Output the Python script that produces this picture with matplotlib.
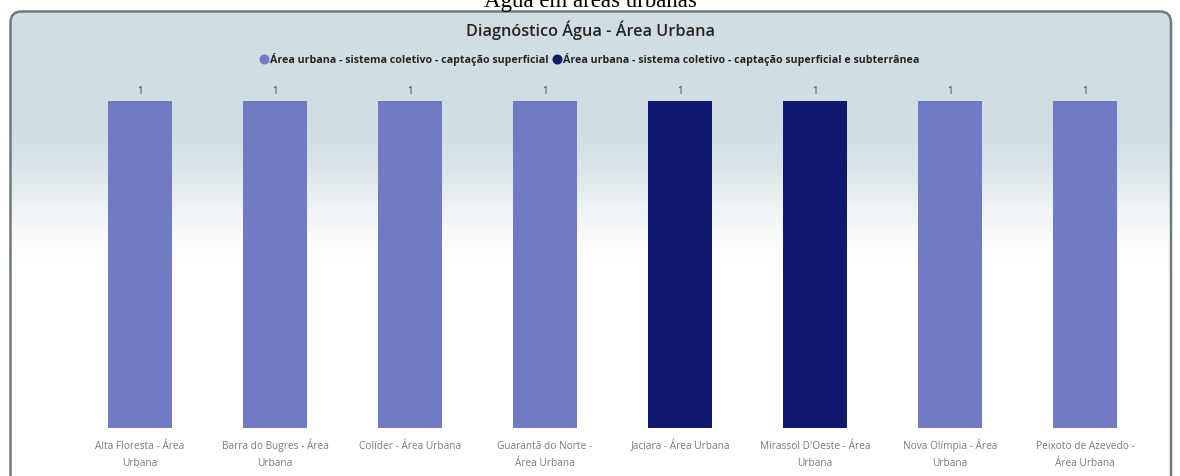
import matplotlib
matplotlib.use("Agg")
import matplotlib.pyplot as plt
import numpy as np
from matplotlib.patches import FancyBboxPatch
from matplotlib.lines import Line2D

# --- data -------------------------------------------------------------
municipios = [
    "Alta Floresta - Área\nUrbana",
    "Barra do Bugres - Área\nUrbana",
    "Colíder - Área Urbana",
    "Guarantã do Norte -\nÁrea Urbana",
    "Jaciara - Área Urbana",
    "Mirassol D'Oeste - Área\nUrbana",
    "Nova Olímpia - Área\nUrbana",
    "Peixoto de Azevedo -\nÁrea Urbana",
]
valores = [1, 1, 1, 1, 1, 1, 1, 1]
series = [
    "Área urbana - sistema coletivo - captação superficial",
    "Área urbana - sistema coletivo - captação superficial e subterrânea",
]
serie_por_municipio = [0, 0, 0, 0, 1, 1, 0, 0]
cores_series = ["#717ac5", "#0f1a6f"]

titulo_pagina = "Água em áreas urbanas"
titulo_card = "Diagnóstico Água - Área Urbana"

# --- figure -----------------------------------------------------------
W, H = 1180, 476
fig = plt.figure(figsize=(W / 100, H / 100), dpi=100)
fig.patch.set_facecolor("white")

bg = fig.add_axes([0, 0, 1, 1])
bg.set_xlim(0, W)
bg.set_ylim(H, 0)
bg.axis("off")

# card with vertical gradient background
card_box = (10.5, 11.5, W - 19.5, H + 20)
clip = FancyBboxPatch(card_box[:2], card_box[2], card_box[3],
                      boxstyle="round,pad=0,rounding_size=11",
                      fc="none", ec="none")
bg.add_patch(clip)

rows = np.arange(H) + 0.5
t = np.clip((rows - 120) / (268 - 120), 0, 1)
t = t * t * (3 - 2 * t)
top = np.array([208, 221, 226]) / 255
col = top[None, :] * (1 - t[:, None]) + t[:, None]
grad = np.repeat(col[:, None, :], 4, axis=1)
img = bg.imshow(grad, extent=(0, W, H, 0), aspect="auto",
                interpolation="nearest", zorder=0)
img.set_clip_path(clip)

border = FancyBboxPatch(card_box[:2], card_box[2], card_box[3],
                        boxstyle="round,pad=0,rounding_size=11",
                        fc="none", ec="#6e797e", lw=1.8, zorder=3)
bg.add_patch(border)

# page title (partly cut at the top edge)
fig.text(0.5, 1 - 7 / H, titulo_pagina, ha="center", va="baseline",
         family="Liberation Serif", fontsize=16.5, color="black")

# card title
fig.text(0.5, 1 - 30 / H, titulo_card, ha="center", va="center",
         family="Open Sans", fontweight="semibold", fontstretch="normal",
         fontsize=11.7, color="#252423")

# --- bars ---------------------------------------------------------------
ax = fig.add_axes([72.5 / W, 1 - 428 / H, 1080 / W, (428 - 101) / H])
ax.set_facecolor("none")
x = np.arange(len(municipios))
cores = [cores_series[s] for s in serie_por_municipio]
ax.bar(x, valores, width=0.475, color=cores, zorder=2)
ax.set_xlim(-0.5, len(municipios) - 0.5)
ax.set_ylim(0, max(valores))

for xi, v in zip(x, valores):
    ax.annotate(f"{v}", (xi, v), xytext=(0, 3), textcoords="offset points",
                ha="center", va="bottom", fontsize=7, family="Open Sans",
                color="#444444", annotation_clip=False)

for s in ax.spines.values():
    s.set_visible(False)
ax.set_yticks([])
ax.set_xticks(x)
ax.set_xticklabels([])
ax.tick_params(axis="x", length=0)

# category labels, each line placed on a fixed baseline grid
for xi, nome in zip(x, municipios):
    for k, linha in enumerate(nome.split("\n")):
        ax.annotate(linha, (xi, 0), xytext=(0, -15.0 - 12.3 * k),
                    textcoords="offset points", ha="center", va="baseline",
                    family="Open Sans", fontsize=7.3, color="#7a7a7a",
                    annotation_clip=False)

# legend
handles = [Line2D([], [], ls="none", marker="o", ms=6.2, color=c)
           for c in cores_series]
leg = fig.legend(handles, series, loc="center", ncol=2,
                 bbox_to_anchor=(0.5, 1 - 59 / H), frameon=False,
                 handlelength=0.6, handletextpad=0.25, columnspacing=0.5,
                 prop={"family": "Open Sans", "weight": "bold",
                       "stretch": "normal", "size": 7.7})
for txt in leg.get_texts():
    txt.set_color("#252423")

fig.savefig("out.png", dpi=100)
